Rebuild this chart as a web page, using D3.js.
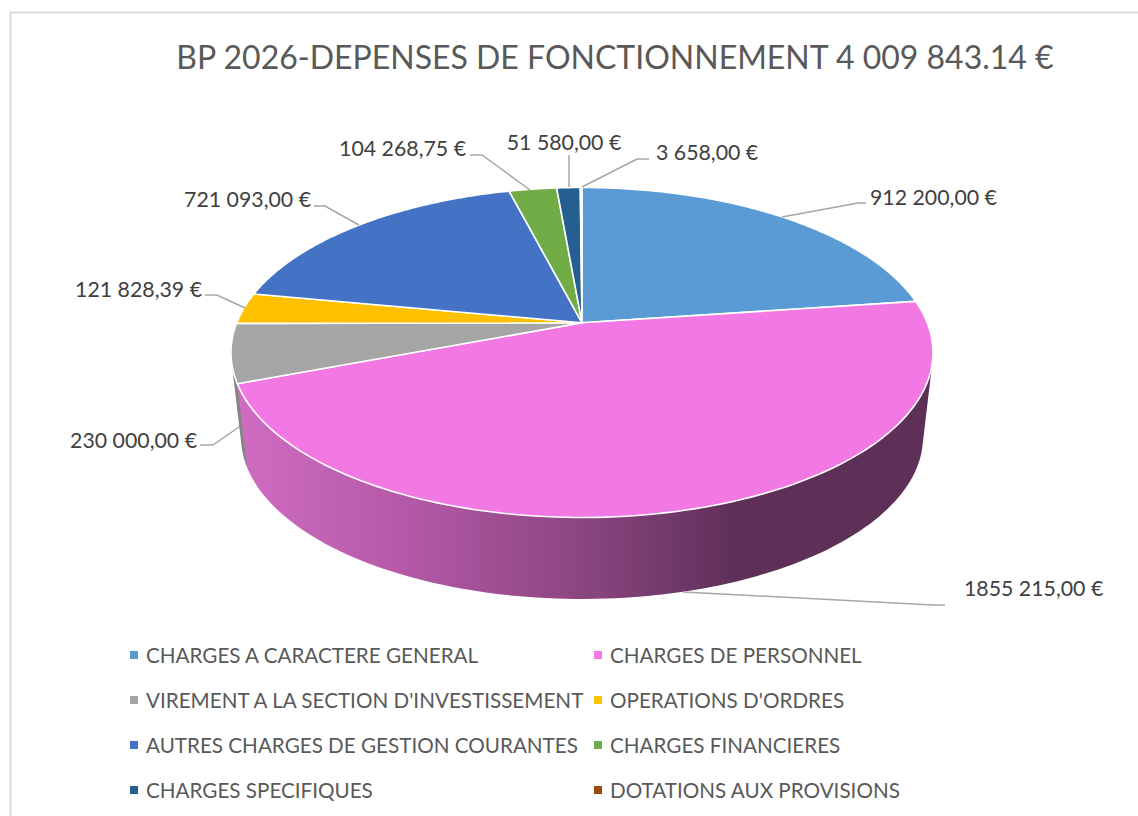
<!DOCTYPE html>
<html><head><meta charset="utf-8">
<script src="https://cdn.jsdelivr.net/npm/d3@7"></script>
<style>html,body{margin:0;background:#fff}svg{display:block}text{font-family:Lato,"Open Sans",sans-serif}</style>
</head><body><svg id="c" width="1138" height="816"></svg>
<script>
const titleText = "BP 2026-DEPENSES DE FONCTIONNEMENT 4 009 843.14 €";
const categories = ["CHARGES A CARACTERE GENERAL","CHARGES DE PERSONNEL","VIREMENT A LA SECTION D'INVESTISSEMENT","OPERATIONS D'ORDRES","AUTRES CHARGES DE GESTION COURANTES","CHARGES FINANCIERES","CHARGES SPECIFIQUES","DOTATIONS AUX PROVISIONS"];
const values = [912200,1855215,230000,121828.39,721093,104268.75,51580,3658];
const valueLabels = ["912 200,00 €","1855 215,00 €","230 000,00 €","121 828,39 €","721 093,00 €","104 268,75 €","51 580,00 €","3 658,00 €"];
const colors = ["#5b9bd5","#f279e3","#a5a5a5","#ffc000","#4472c4","#70ad47","#255e91","#9e480e"];
// layout
const cx=582, cy=352.5, rx=351, ry=165, b=0.18;
const lowCy=437, lowRx=341, lowRy=162;
const labelLayout=[
 {x:870,y:198,a:"start",ex:858,ey:203,tail:8,tx:782,ty:217},
 {x:964,y:589,a:"start",ex:933,ey:605,tail:12,tx:683,ty:592},
 {x:197,y:441,a:"end",ex:213,ey:445,tail:-13,tx:239,ty:427},
 {x:202,y:290,a:"end",ex:217,ey:295,tail:-12,tx:245,ty:308},
 {x:311,y:200,a:"end",ex:325,ey:206,tail:-11,tx:359,ty:225},
 {x:466,y:149,a:"end",ex:482,ey:155,tail:-12,tx:530,ty:190},
 {x:564,y:143,a:"middle",ex:569,ey:155,tail:0,tx:569,ty:187},
 {x:656,y:153,a:"start",ex:637,ey:159,tail:12,tx:582,ty:187}
];
const svg=d3.select("#c");
svg.append("rect").attr("x",10.5).attr("y",12.5).attr("width",1200).attr("height",900).attr("fill","#fff").attr("stroke","#d9d9d9").attr("stroke-width",2);
svg.append("text").attr("x",615).attr("y",69).attr("text-anchor","middle").attr("font-size",32).attr("fill","#595959").text(titleText);

const pie=d3.pie().sort(null).value(d=>d);
const arcs=pie(values);
const proj=(t,ellCy=cy,erx=rx,ery=ry)=>{const u=Math.sin(t),v=Math.cos(t),d=1+b*v;
  return [cx+erx*u*Math.sqrt(1-b*b)/d, ellCy-ery*(v+b)/d];};
const apex=[cx,cy-ry*b];
const line=d3.line();
const pts=(a0,a1,f)=>d3.range(0,121).map(i=>f(a0+(a1-a0)*i/120));

// gradient on the wall
const defs=svg.append("defs");
const grad=defs.append("linearGradient").attr("id","wall").attr("gradientUnits","userSpaceOnUse").attr("x1",240).attr("x2",930).attr("y1",0).attr("y2",0);
[[0,"#cf6cc2"],[0.25,"#b358a6"],[0.5,"#8a4580"],[0.72,"#5e3058"],[1,"#5e3058"]].forEach(s=>grad.append("stop").attr("offset",s[0]).attr("stop-color",s[1]));

// walls (back to front): hull of the top arc and the lower arc of each visible slice
[2,1].forEach(i=>{const d=arcs[i];
  const f=t=>proj(t), g=t=>proj(t,lowCy,lowRx,lowRy);
  const hull=d3.polygonHull(pts(d.startAngle,d.endAngle,f).concat(pts(d.startAngle,d.endAngle,g)));
  svg.append("path").attr("d",line(hull)+"Z").attr("fill",i==1?"url(#wall)":"#858585");
});
// top faces
arcs.forEach((d,i)=>{
  const poly=[apex].concat(pts(d.startAngle,d.endAngle,t=>proj(t)));
  svg.append("path").attr("d",line(poly)+"Z").attr("fill",colors[i]).attr("stroke","#fff").attr("stroke-width",1.6).attr("stroke-linejoin","round");
});
// leaders and labels
arcs.forEach((d,i)=>{const L=labelLayout[i];
  svg.append("path").attr("d",line([[L.tx,L.ty],[L.ex,L.ey],[L.ex+L.tail,L.ey]])).attr("fill","none").attr("stroke","#a6a6a6").attr("stroke-width",1.5);
  svg.append("text").attr("x",L.x).attr("y",L.y+7).attr("text-anchor",L.a).attr("font-size",21.3).attr("fill","#404040").text(valueLabels[i]);
});
// legend
const legX=[146,610], legY=[655,700,745,790];
categories.forEach((c,i)=>{const x=legX[i%2],y=legY[Math.floor(i/2)];
  svg.append("rect").attr("x",x-16).attr("y",y-4).attr("width",8).attr("height",8).attr("fill",colors[i]);
  svg.append("text").attr("x",x).attr("y",y+8).attr("font-size",20.65).attr("fill","#595959").text(c);
});
</script></body></html>
